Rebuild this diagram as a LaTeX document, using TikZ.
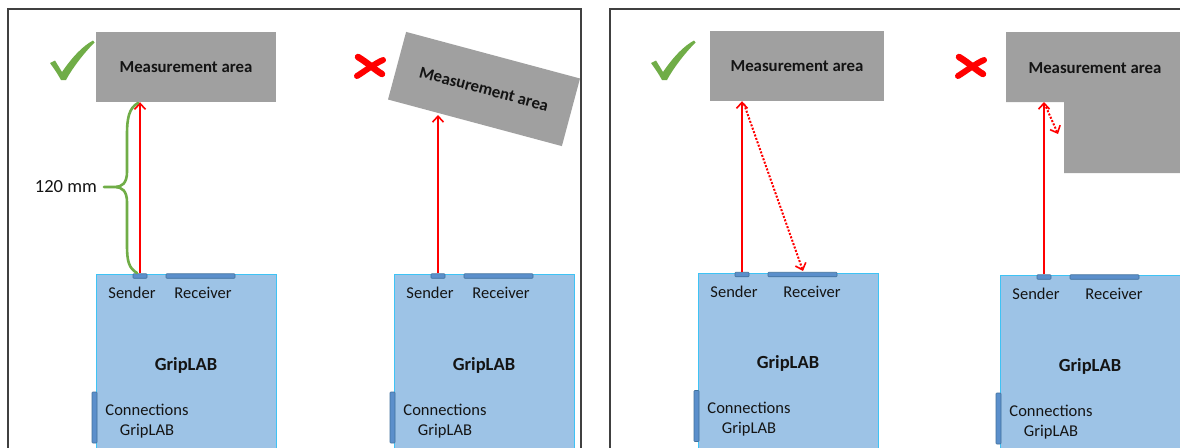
\documentclass[tikz,border=0pt]{standalone}
\usepackage{fontspec}
\setmainfont{Carlito}
\usetikzlibrary{arrows.meta}
\definecolor{mgray}{HTML}{A0A0A0}
\definecolor{gfill}{HTML}{9DC3E6}
\definecolor{gborder}{HTML}{3EC3F5}
\definecolor{padfill}{HTML}{5B8FCB}
\definecolor{padline}{HTML}{41719C}
\definecolor{okgreen}{HTML}{70AD47}
\definecolor{framecol}{HTML}{404040}
\definecolor{txt}{HTML}{141414}
\definecolor{ray}{HTML}{FF0000}

\tikzset{
  marea/.style={fill=mgray, inner sep=0, text=txt, font=\fontsize{16.8}{20}\bfseries\selectfont},
  gbox/.style={fill=gfill, draw=gborder, line width=1pt, inner sep=0},
  padbox/.style={fill=padfill, draw=padline, line width=0.6pt, inner sep=0, rounded corners=0.8pt},
  lbl/.style={inner sep=0, text=txt, font=\fontsize{16.5}{20}\selectfont},
  blbl/.style={inner sep=0, text=txt, font=\fontsize{18.5}{22}\bfseries\selectfont},
  rayline/.style={draw=ray, line width=2pt, -{Straight Barb[length=6pt,width=11pt,line width=1.6pt]}},
  raydot/.style={draw=ray, line width=2pt, dash pattern=on 2pt off 1.6pt, -{Straight Barb[length=6pt,width=11pt,line width=1.6pt]}},
  panelframe/.style={draw=framecol, line width=1.8pt},
}

% #1 x shift, #2 y shift, #3 suffix, #4 receiver text x
\newcommand\gripunit[4]{%
 \begin{scope}[shift={(#1,#2)}]
  \node[gbox, minimum width=180, minimum height=190, anchor=north west] (g#3) at (96,274) {};
  \node[padbox, minimum width=14, minimum height=4.5] (s#3) at (140,276) {};
  \node[padbox, minimum width=69, minimum height=4.5] (r#3) at (200.5,276) {};
  \node[padbox, minimum width=5, minimum height=51] (c#3) at (94.5,417.5) {};
  \node[lbl, anchor=base] (ts#3) at (132,298.5) {Sender};
  \node[lbl, anchor=base] (tr#3) at (#4,298.5) {Receiver};
  \node[blbl, anchor=base] (tg#3) at (186,370) {GripLAB};
  \node[lbl, align=center, anchor=center] (tc#3) at (147,421) {Connections\\GripLAB};
 \end{scope}}

\newcommand\okmark[2]{%
 \fill[okgreen, shift={(#1,#2)}] (-13,-17) -- (-8,-19.5) .. controls (-5,-13) .. (-1,-8)
   .. controls (10,-24) and (20,-34) .. (30,-39.5) -- (31.5,-37.5)
   .. controls (22,-28) and (10,-13) .. (3,0) -- (-2,0) .. controls (-6,-7) .. (-13,-17) -- cycle;}

\newcommand\badmark[2]{%
 \begin{scope}[shift={(#1,#2)}]
  \draw[ray, line width=6.5pt, line cap=round] (-12,-9) .. controls (-2,-3) and (5,4) .. (12,8);
  \draw[ray, line width=6pt, line cap=round] (13,-6) .. controls (4,-2) and (-5,5) .. (-13,10);
 \end{scope}}

\begin{document}
\begin{tikzpicture}[x=1pt, y=-1pt]
\useasboundingbox (0,0) rectangle (1180,447);
\clip (0,0) rectangle (1180,447);
\fill[white] (0,0) rectangle (1180,447);

% panel frames
\draw[panelframe] (8,470) -- (8,9) -- (581,9) -- (581,470);
\draw[panelframe] (610,470) -- (610,9) -- (1200,9);

% ---------- panel 1 ----------
\okmark{63}{80}
\node[marea, minimum width=180, minimum height=70] (m1) at (186,67) {Measurement area};
\gripunit{0}{0}{1}{203}
\draw[rayline] (s1.north) -- (s1.north |- m1.south);
\draw[okgreen, line width=2.6pt, line cap=round]
  (138,103) .. controls (129,108) and (127,118) .. (127,135) -- (127,172)
  .. controls (127,183) and (122,187) .. (115,187) -- (104,187)
  (115,187) .. controls (122,187) and (127,191) .. (127,202) -- (127,245)
  .. controls (127,262) and (129,268) .. (137,273);
\node[inner sep=0, text=txt, font=\fontsize{18.5}{22}\selectfont, anchor=east] (mm) at (97,187) {120 mm};

% ---------- panel 2 ----------
\badmark{370}{66}
\node[marea, minimum width=180, minimum height=70, rotate=-15] (m2) at (484,89) {Measurement area};
\gripunit{298}{0}{2}{203}
\coordinate (h2) at (438,115);
\draw[rayline] (s2.north) -- (s2.north |- h2);

% ---------- panel 3 ----------
\okmark{664}{80}
\node[marea, minimum width=174, minimum height=70] (m3) at (797,66) {Measurement area};
\gripunit{602}{-1.5}{3}{210}
\draw[rayline] (s3.north) -- (s3.north |- m3.south);
\coordinate (d3a) at (744,104);
\coordinate (d3b) at (803,271);
\draw[raydot] (d3a) -- (d3b);

% ---------- panel 4 ----------
\badmark{971}{66}
\fill[mgray] (1006,32) -- (1200,32) -- (1200,173) -- (1064,173) -- (1064,102) -- (1006,102) -- cycle;
\coordinate (n4) at (1006,102);
\node[marea, fill=none] (m4) at (1095,68) {Measurement area};
\gripunit{904}{1}{4}{210}
\draw[rayline] (s4.north) -- (s4.north |- n4);
\coordinate (d4a) at (1046,107);
\coordinate (d4b) at (1058,134);
\draw[raydot] (d4a) -- (d4b);
\end{tikzpicture}
\end{document}
